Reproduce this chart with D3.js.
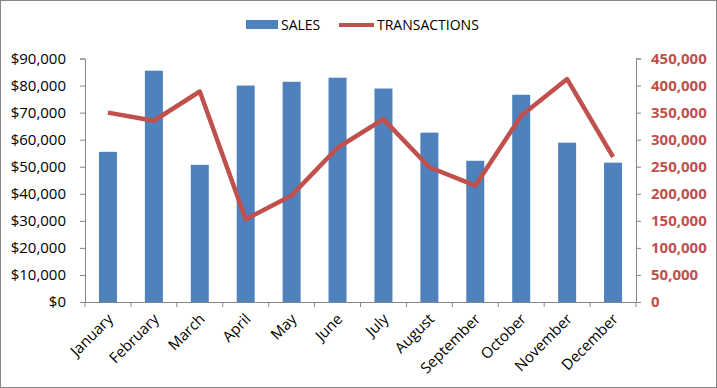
<html>
<head>
<script src="https://d3js.org/d3.v7.min.js"></script>
<style>
  body { margin: 0; }
  text { font-family: "Open Sans", "Noto Sans", sans-serif; }
</style>
</head>
<body>
<svg width="717" height="388"></svg>
<script>
var months = ["January","February","March","April","May","June","July","August","September","October","November","December"];
var sales = [55500, 85500, 50700, 80000, 81400, 82900, 78900, 62600, 52200, 76600, 58900, 51500];
var transactions = [350000, 335000, 389000, 153000, 197000, 285000, 338000, 249000, 215000, 344000, 412000, 268000];
var salesTicks = d3.range(0, 90001, 10000);
var transTicks = d3.range(0, 450001, 50000);

var svg = d3.select("svg");
var marge = {top:58.5, bottom:86, left:85, right:81};
var width = +svg.attr("width"), height = +svg.attr("height");

// outer border
svg.append("rect").attr("x",0.5).attr("y",0.5).attr("width",width-1).attr("height",height-1)
  .attr("fill","white").attr("stroke","#868686");

var x = d3.scaleBand().domain(months).range([marge.left, width-marge.right]).paddingInner(0.6).paddingOuter(0.3);
var xb = d3.scaleBand().domain(months).range([marge.left, width-marge.right]);
var yL = d3.scaleLinear().domain([0,90000]).range([height-marge.bottom, marge.top]);
var yR = d3.scaleLinear().domain([0,450000]).range([height-marge.bottom, marge.top]);

// bars
svg.append("g").selectAll("rect").data(sales).enter().append("rect")
  .attr("x", function(d,i){ return xb(months[i]) + xb.bandwidth()/2 - 9; })
  .attr("width", 18)
  .attr("y", function(d){ return yL(d); })
  .attr("height", function(d){ return yL(0) - yL(d); })
  .attr("fill", "#4F81BD");

// line
var line = d3.line()
  .x(function(d,i){ return xb(months[i]) + xb.bandwidth()/2; })
  .y(function(d){ return yR(d); });
svg.append("path").datum(transactions)
  .attr("d", line).attr("fill","none").attr("stroke","#C0504D").attr("stroke-width",4.5)
  .attr("stroke-linejoin","round");

// left axis
var gL = svg.append("g").attr("transform","translate("+marge.left+",0)")
  .call(d3.axisLeft(yL).tickValues(salesTicks).tickSize(5).tickPadding(14).tickFormat(function(d){ return "$" + d3.format(",")(d); }));
gL.selectAll("text").attr("font-size","15px").attr("fill","#000");

// right axis
var gR = svg.append("g").attr("transform","translate("+(width-marge.right)+",0)")
  .call(d3.axisRight(yR).tickValues(transTicks).tickSize(5).tickPadding(10).tickFormat(d3.format(",")));
gR.selectAll("text").attr("font-size","15px").attr("font-weight","bold").attr("fill","#C0504D").attr("text-anchor","start");

// bottom axis
var gB = svg.append("g").attr("transform","translate(0,"+(height-marge.bottom)+")")
  .call(d3.axisBottom(xb).tickSize(5).tickSizeOuter(0));
gB.selectAll(".tick line").attr("transform","translate("+(-xb.bandwidth()/2)+",0)");
gB.append("line").attr("x1",width-marge.right).attr("x2",width-marge.right).attr("y1",0).attr("y2",5).attr("stroke","#868686");
gB.selectAll("text").attr("font-size","15px").attr("fill","#000")
  .attr("text-anchor","end").attr("dy",0).attr("y",0)
  .attr("transform","translate(6,18) rotate(-45)");

svg.selectAll(".domain, .tick line").attr("stroke","#868686");

// legend
var lg = svg.append("g");
lg.append("rect").attr("x",246).attr("y",20).attr("width",32).attr("height",9).attr("fill","#4F81BD");
lg.append("text").attr("x",281).attr("y",30).attr("font-size","14px").text("SALES");
lg.append("line").attr("x1",339).attr("x2",374).attr("y1",25).attr("y2",25).attr("stroke","#C0504D").attr("stroke-width",4);
lg.append("text").attr("x",377).attr("y",30).attr("font-size","14px").text("TRANSACTIONS");
</script>
</body>
</html>
